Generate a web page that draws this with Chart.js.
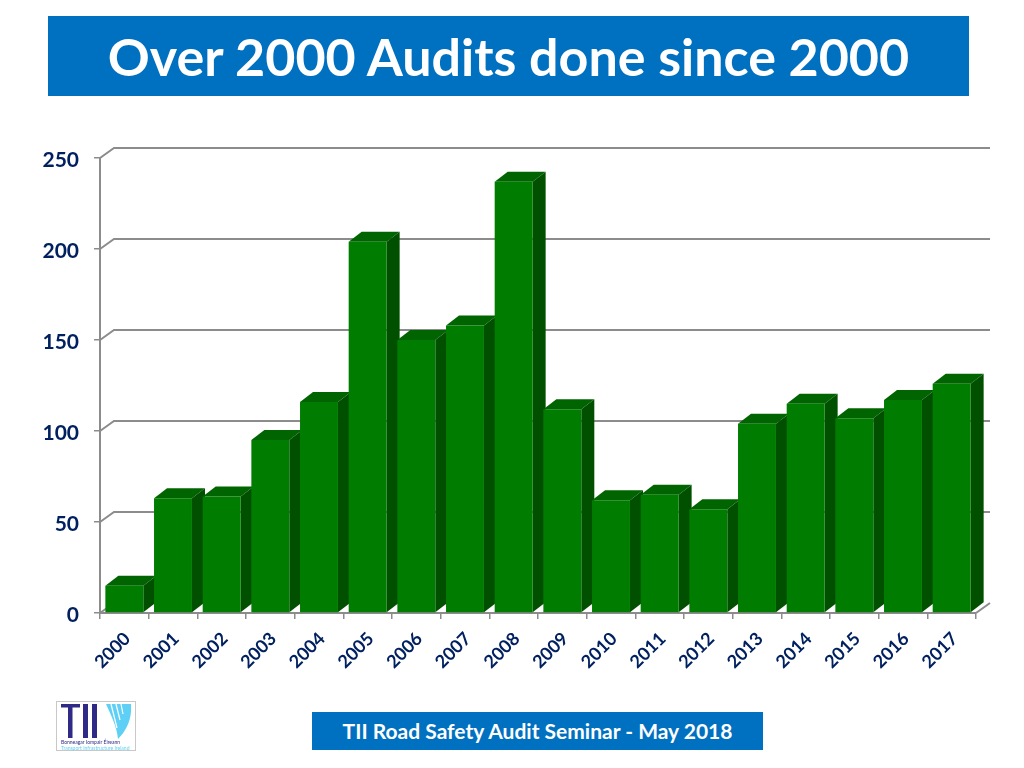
<!DOCTYPE html>
<html>
<head>
<meta charset="utf-8">
<title>Over 2000 Audits done since 2000</title>
<script src="https://cdn.jsdelivr.net/npm/chart.js@4/dist/chart.umd.min.js"></script>
<style>
    html, body { margin: 0; padding: 0; background: #fff; overflow: hidden; }
    body { width: 1024px; height: 768px; position: relative; font-family: Lato, sans-serif; }
    #chart { position: absolute; left: 0; top: 0; }
    #banner {
        position: absolute; left: 48px; top: 16px; width: 921px; height: 80px; background: #0070c0;
        color: #fff; font-weight: bold; font-size: 52px; line-height: 80px; text-align: center;
    }
    #footer {
        position: absolute; left: 312px; top: 712px; width: 451px; height: 38px; background: #0070c0;
        color: #fff; font-weight: bold; font-size: 21px; line-height: 38px; text-align: center;
    }
    #logo { position: absolute; left: 56px; top: 701px; }
</style>
</head>
<body>
<canvas id="chart" width="1024" height="768"></canvas>
<div id="banner">Over 2000 Audits done since 2000</div>
<div id="footer">TII Road Safety Audit Seminar - May 2018</div>
<svg id="logo" width="80" height="50" viewBox="0 0 80 50">
    <rect x="0.5" y="0.5" width="79" height="49" fill="#fff" stroke="#c8c8c8"/>
    <path d="M5 3h19v3.500h-7.500V37h-4.500V6.500H5zM27 3h5v34h-5zM36 3h5v34h-5z" fill="#2e2a86"/>
    <path d="M50 3h25v8c-1 11-6 20-13 27-1-12-7-24-12-35z" fill="#5fd0f5"/>
    <path d="M55 3l6 24M60 3l4 16M65 3l2 10" stroke="#fff" stroke-width="1.200"/>
    <text x="5" y="43" font-size="5" fill="#2e2a86" font-family="Lato">Bonneagar Iompair Éireann</text>
    <text x="5" y="48.500" font-size="5" fill="#5fd0f5" font-family="Lato">Transport Infrastructure Ireland</text>
</svg>
<script>
const years = ['2000', '2001', '2002', '2003', '2004', '2005', '2006', '2007', '2008',
    '2009', '2010', '2011', '2012', '2013', '2014', '2015', '2016', '2017'];
const audits = [15, 63, 64, 95, 116, 204, 150, 158, 237, 112, 62, 65, 57, 104, 115, 107, 117, 126];
const yTicks = [0, 50, 100, 150, 200, 250];

// 3D look: the picture has a back wall and bars with depth
const DEPTH_X = 14;
const DEPTH_Y = 10;
const GREY = '#8c8c8c';

function poly(ctx, pts, color) {
    ctx.fillStyle = color;
    ctx.beginPath();
    pts.forEach((p, i) => i ? ctx.lineTo(p[0], p[1]) : ctx.moveTo(p[0], p[1]));
    ctx.closePath();
    ctx.fill();
}

const wallAndDepth = {
    id: 'wallAndDepth',
    beforeDatasetsDraw(chart) {
        const ctx = chart.ctx;
        const area = chart.chartArea;
        const y = chart.scales.y;
        ctx.save();
        ctx.strokeStyle = GREY;
        ctx.lineWidth = 2;
        yTicks.forEach(v => {
            const py = y.getPixelForValue(v);
            ctx.beginPath();
            ctx.moveTo(area.left, py);
            ctx.lineTo(area.left + DEPTH_X, py - DEPTH_Y);
            if (v === 0) {
                ctx.moveTo(area.right, py);
            }
            ctx.lineTo(area.right + DEPTH_X, py - DEPTH_Y);
            ctx.stroke();
        });
        chart.getDatasetMeta(0).data.forEach(bar => {
            const l = bar.x - bar.width / 2;
            const r = bar.x + bar.width / 2;
            const dx = DEPTH_X - 1;
            poly(ctx, [[l, bar.y], [l + dx, bar.y - DEPTH_Y], [r + dx, bar.y - DEPTH_Y], [r, bar.y]], '#006400');
            poly(ctx, [[r, bar.y], [r + dx, bar.y - DEPTH_Y], [r + dx, bar.base - DEPTH_Y], [r, bar.base]], '#005000');
        });
        ctx.restore();
    }
};

new Chart(document.getElementById('chart'), {
    type: 'bar',
    data: {
        labels: years,
        datasets: [{
            data: audits,
            backgroundColor: '#007d00',
            barPercentage: 0.78,
            categoryPercentage: 1
        }]
    },
    options: {
        responsive: false,
        animation: false,
        layout: { padding: { top: 158, right: 48, left: 0, bottom: 0 } },
        plugins: { legend: { display: false }, tooltip: { enabled: false } },
        scales: {
            x: {
                afterFit: scale => { scale.height = 155; },
                border: { color: GREY, width: 2 },
                grid: { drawOnChartArea: false, color: GREY, tickLength: 6, lineWidth: 1.5 },
                ticks: {
                    color: '#002060',
                    font: { family: 'Lato', weight: 'bold', size: 18 },
                    maxRotation: 45,
                    minRotation: 45,
                    labelOffset: 3,
                    padding: 9
                }
            },
            y: {
                min: 0,
                max: 250,
                afterFit: scale => { scale.width = 100; },
                afterBuildTicks: scale => { scale.ticks = yTicks.map(v => ({ value: v })); },
                border: { color: GREY, width: 2 },
                grid: { drawOnChartArea: false, color: GREY, tickLength: 6, lineWidth: 1.5 },
                ticks: {
                    color: '#002060',
                    font: { family: 'Lato', weight: 'bold', size: 21 },
                    labelOffset: 2,
                    padding: 15
                }
            }
        }
    },
    plugins: [wallAndDepth]
});
</script>
</body>
</html>
